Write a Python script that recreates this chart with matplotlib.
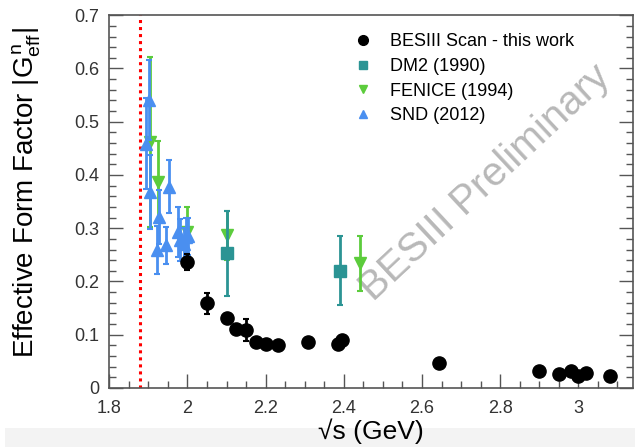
import numpy as np
import matplotlib
matplotlib.use('Agg')
import matplotlib.pyplot as plt
from matplotlib.lines import Line2D
from matplotlib.patches import Rectangle
from matplotlib.ticker import MultipleLocator, FormatStrFormatter

plt.rcParams['font.family'] = ['Liberation Sans', 'DejaVu Sans']
plt.rcParams['mathtext.fontset'] = 'custom'
plt.rcParams['mathtext.rm'] = 'Liberation Sans'
plt.rcParams['mathtext.it'] = 'Liberation Sans'

# BESIII scan (this work)
bes_x = [2.000, 2.050, 2.100, 2.125, 2.150, 2.175, 2.200, 2.232, 2.309, 2.386, 2.396,
         2.644, 2.900, 2.950, 2.981, 3.000, 3.020, 3.080]
bes_y = [0.236, 0.159, 0.132, 0.110, 0.109, 0.086, 0.083, 0.081, 0.086, 0.083, 0.091,
         0.046, 0.032, 0.026, 0.032, 0.0225, 0.029, 0.0225]
bes_e = [0.015, 0.020, 0.006, 0.006, 0.020, 0.005, 0.005, 0.005, 0.005, 0.005, 0.005,
         0.005, 0.004, 0.004, 0.004, 0.008, 0.004, 0.004]

# DM2 (1990)
dm2_x = [2.100, 2.390]
dm2_y = [0.253, 0.220]
dm2_e = [0.080, 0.065]

# FENICE (1994)
fen_x = [1.905, 1.924, 2.000, 2.100, 2.442]
fen_y = [0.462, 0.387, 0.292, 0.287, 0.234]
fen_e = [0.160, 0.077, 0.048, 0.046, 0.052]

# SND (2012)
snd_x = [1.894, 1.903, 1.904, 1.922, 1.927, 1.944, 1.953, 1.975, 1.982, 1.990, 1.996, 2.002]
snd_y = [0.459, 0.540, 0.368, 0.259, 0.321, 0.268, 0.378, 0.293, 0.278, 0.270, 0.284, 0.285]
snd_e = [0.085, 0.075, 0.070, 0.045, 0.050, 0.035, 0.050, 0.047, 0.040, 0.030, 0.035, 0.035]

threshold = 1.879

c_bes = 'black'
c_dm2 = '#2b9494'
c_fen = '#5ccc3c'
c_snd = '#4a8ff0'

fig = plt.figure(figsize=(6.35, 4.47), dpi=100)
fig.patches.append(Rectangle((0.008, 0), 0.992, 0.043, transform=fig.transFigure,
                             facecolor='#f3f3f3', edgecolor='none', zorder=-5))
ax = fig.add_axes([0.172, 0.132, 0.825, 0.834])
ax.set_zorder(1)
ax.patch.set_alpha(0)

ax.axvline(threshold, color='red', linestyle=(0, (1, 1.3)), linewidth=2.2, zorder=1)

ax.errorbar(fen_x, fen_y, yerr=fen_e, fmt='v', color=c_fen, ms=8, elinewidth=2,
            capsize=2, capthick=1.5, zorder=3)
ax.errorbar(dm2_x, dm2_y, yerr=dm2_e, fmt='s', color=c_dm2, ms=8, elinewidth=2,
            capsize=2, capthick=1.5, zorder=4)
ax.errorbar(snd_x, snd_y, yerr=snd_e, fmt='^', color=c_snd, ms=8, elinewidth=2,
            capsize=2, capthick=1.5, zorder=5)
ax.errorbar(bes_x, bes_y, yerr=bes_e, fmt='o', color=c_bes, ms=9.5, elinewidth=2,
            capsize=2, capthick=1.5, zorder=6)

ax.text(0.718, 0.55, 'BESIII Preliminary', transform=ax.transAxes, rotation=43,
        fontsize=29, color='#b8b8b8', ha='center', va='center', zorder=2)

handles = [
    Line2D([], [], marker='o', color=c_bes, linestyle='none', ms=7),
    Line2D([], [], marker='s', color=c_dm2, linestyle='none', ms=6),
    Line2D([], [], marker='v', color=c_fen, linestyle='none', ms=6),
    Line2D([], [], marker='^', color=c_snd, linestyle='none', ms=6),
]
labels = ['BESIII Scan - this work', 'DM2 (1990)', 'FENICE (1994)', 'SND (2012)']
ax.legend(handles, labels, loc='upper left', bbox_to_anchor=(0.447, 0.98), frameon=False,
          fontsize=13, handletextpad=1.0, labelspacing=0.42, handlelength=1.0,
          borderaxespad=0.2)

ax.set_xlim(1.8, 3.14)
ax.set_ylim(0, 0.7)
ax.xaxis.set_major_locator(MultipleLocator(0.2))
ax.xaxis.set_minor_locator(MultipleLocator(0.05))
ax.yaxis.set_major_locator(MultipleLocator(0.1))
ax.yaxis.set_minor_locator(MultipleLocator(0.02))
ax.xaxis.set_major_formatter(FormatStrFormatter('%g'))
ax.yaxis.set_major_formatter(FormatStrFormatter('%g'))
ax.tick_params(which='both', direction='in', right=True, colors='#555555',
               labelcolor='#333333', labelsize=13)
ax.tick_params(which='major', length=10, width=1)
ax.tick_params(which='minor', length=5, width=1)
ax.tick_params(axis='x', pad=9)
ax.tick_params(axis='y', pad=7)
for s in ax.spines.values():
    s.set_color('#555555')
    s.set_linewidth(1.2)

ax.set_ylabel(r'Effective Form Factor $|G^{n}_{eff}|$', fontsize=20)
ax.yaxis.set_label_coords(-0.126, 0.523)
ax.set_xlabel('√s (GeV)', fontsize=19, labelpad=1)

fig.savefig('out.png', dpi=100)
